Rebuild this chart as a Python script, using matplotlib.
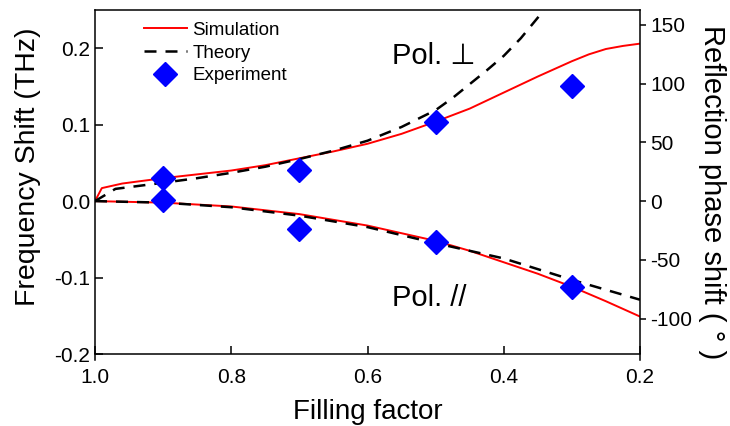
import matplotlib
matplotlib.use("Agg")
import matplotlib.pyplot as plt
from matplotlib.lines import Line2D

plt.rcParams['font.family'] = ['Liberation Sans', 'DejaVu Sans']

# Simulation, Pol. perpendicular
sim_perp_f = [1.0, 0.99, 0.96, 0.9, 0.85, 0.8, 0.75, 0.7, 0.65, 0.6, 0.55, 0.5, 0.45, 0.4, 0.35, 0.3, 0.275, 0.25, 0.225, 0.2]
sim_perp_v = [0.0, 0.017, 0.023, 0.030, 0.035, 0.040, 0.047, 0.056, 0.065, 0.075, 0.088, 0.104, 0.121, 0.142, 0.163, 0.183, 0.192, 0.199, 0.203, 0.206]
# Theory, Pol. perpendicular
th_perp_f = [1.0, 0.97, 0.9, 0.85, 0.8, 0.75, 0.7, 0.65, 0.6, 0.55, 0.5, 0.475, 0.45, 0.425, 0.4, 0.375, 0.35, 0.33]
th_perp_v = [0.0, 0.016, 0.024, 0.030, 0.037, 0.045, 0.055, 0.066, 0.079, 0.097, 0.119, 0.135, 0.153, 0.171, 0.190, 0.213, 0.240, 0.265]
# Simulation, Pol. parallel
sim_par_f = [1.0, 0.9, 0.8, 0.7, 0.6, 0.5, 0.45, 0.4, 0.35, 0.3, 0.25, 0.2]
sim_par_v = [0.0, -0.002, -0.007, -0.017, -0.032, -0.052, -0.065, -0.080, -0.095, -0.112, -0.131, -0.151]
# Theory, Pol. parallel
th_par_f = [1.0, 0.9, 0.8, 0.7, 0.6, 0.5, 0.4, 0.35, 0.3, 0.25, 0.2]
th_par_v = [0.0, -0.002, -0.008, -0.019, -0.034, -0.055, -0.075, -0.089, -0.103, -0.116, -0.129]
# Experiment
exp_f = [0.9, 0.7, 0.5, 0.3]
exp_perp = [0.030, 0.041, 0.103, 0.150]
exp_par = [0.002, -0.036, -0.053, -0.112]

left_ticks = [-0.2, -0.1, 0.0, 0.1, 0.2]
right_ticks = [-100, -50, 0, 50, 100, 150]
x_ticks = [1.0, 0.8, 0.6, 0.4, 0.2]

W, H = 730, 426
fig = plt.figure(figsize=(7.3, 4.26), dpi=100)
ax = fig.add_axes([95/W, 1 - 354/H, 545/W, 344/H])

red_kw = dict(color='red', lw=1.4)
dash_kw = dict(color='black', lw=1.8, dashes=(4.8, 3.6))
ax.plot(sim_perp_f, sim_perp_v, **red_kw)
ax.plot(sim_par_f, sim_par_v, **red_kw)
ax.plot(th_perp_f, th_perp_v, **dash_kw)
ax.plot(th_par_f, th_par_v, **dash_kw)
ax.plot(exp_f, exp_perp, 'D', color='blue', ms=12, mec='blue')
ax.plot(exp_f, exp_par, 'D', color='blue', ms=12, mec='blue')

ax.set_xlim(1.0, 0.2)
ax.set_ylim(-0.2, 0.25)
ax.set_xticks(x_ticks)
ax.set_xticklabels(['%.1f' % v for v in x_ticks])
ax.set_yticks(left_ticks)
ax.set_yticklabels(['%.1f' % v for v in left_ticks])
ax.tick_params(axis='both', direction='in', length=6, width=1.1, labelsize=15)
ax.tick_params(axis='x', pad=10)
ax.set_xlabel('Filling factor', fontsize=20, labelpad=9)
for s in ax.spines.values():
    s.set_linewidth(1.1)
ax.spines['right'].set_visible(False)
ax.spines['left'].set_bounds(-0.208, 0.25)

ax2 = ax.twinx()
ax2.set_ylim(-130, 162.5)
ax2.set_yticks(right_ticks)
ax2.set_yticklabels(['%d' % v for v in right_ticks])
ax2.tick_params(axis='y', direction='out', length=4, width=1.1, labelsize=15)
for name, s in ax2.spines.items():
    s.set_linewidth(1.1)
    if name != 'right':
        s.set_visible(False)
ax2.spines['right'].set_bounds(-135.2, 162.5)

fig.text(28.5/W, 1 - 166.5/H, 'Frequency Shift (THz)', fontsize=20.5, rotation=90,
         ha='center', va='center')
fig.text(712/W, 1 - 192/H, 'Reflection phase shift ( ° )', fontsize=21, rotation=270,
         ha='center', va='center')

ax.text((392-95)/545, (354-64)/344, 'Pol. ⊥', fontsize=21, transform=ax.transAxes,
        ha='left', va='baseline')
ax.text((392-95)/545, (354-306)/344, 'Pol. //', fontsize=21, transform=ax.transAxes,
        ha='left', va='baseline')

handles = [Line2D([], [], **red_kw),
           Line2D([], [], **dash_kw),
           Line2D([], [], ls='none', marker='D', color='blue', ms=12)]
ax.legend(handles, ['Simulation', 'Theory', 'Experiment'], loc='upper left',
          bbox_to_anchor=((147-95)/545 - 0.02, 1 - 4/344), frameon=False, fontsize=13.5,
          handlelength=2.3, handletextpad=0.3, labelspacing=0.31, borderaxespad=0)

fig.savefig('out.png', dpi=100)
